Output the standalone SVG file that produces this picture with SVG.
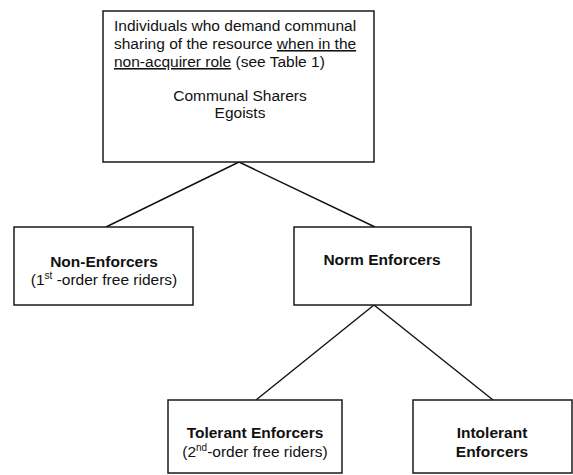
<svg xmlns="http://www.w3.org/2000/svg" width="573" height="475" viewBox="0 0 573 475">
<style>
.box{fill:#fff;stroke:#1a1a1a;stroke-width:1.5}
.t{font-family:"Liberation Sans",Arial,sans-serif;font-size:15.5px;fill:#111}
.b{font-weight:bold}
.c{text-anchor:middle}
.u{text-decoration:underline}
.sup{font-size:10px}
.conn line{stroke:#111;stroke-width:1.4}
</style>
<rect width="573" height="475" fill="#fff"/>
<g class="conn" id="connectors">
<line x1="239" y1="162" x2="106" y2="227"/>
<line x1="239" y1="162" x2="375" y2="227"/>
<line x1="374" y1="305" x2="256" y2="400"/>
<line x1="374" y1="305" x2="493" y2="400"/>
</g>
<g id="root">
<rect class="box" x="103" y="11" width="271" height="151"/>
<text class="t" x="114" y="31">Individuals who demand communal</text>
<text class="t" x="114" y="49">sharing of the resource <tspan class="u">when in the</tspan></text>
<text class="t" x="114" y="67"><tspan class="u">non-acquirer role</tspan> (see Table 1)</text>
<text class="t c" x="240" y="101">Communal Sharers</text>
<text class="t c" x="240" y="118">Egoists</text>
</g>
<g id="non-enforcers">
<rect class="box" x="14" y="227" width="179" height="78"/>
<text class="t b c" x="104" y="267">Non-Enforcers</text>
<text class="t c" x="104" y="285">(1<tspan class="sup" dy="-6">st</tspan><tspan dy="6"> -order free riders)</tspan></text>
</g>
<g id="norm-enforcers">
<rect class="box" x="294" y="227" width="177" height="78"/>
<text class="t b c" x="382" y="265">Norm Enforcers</text>
</g>
<g id="tolerant-enforcers">
<rect class="box" x="168" y="400" width="174" height="73"/>
<text class="t b c" x="255" y="438">Tolerant Enforcers</text>
<text class="t c" x="255" y="457">(2<tspan class="sup" dy="-6">nd</tspan><tspan dy="6">-order free riders)</tspan></text>
</g>
<g id="intolerant-enforcers">
<rect class="box" x="413" y="400" width="159" height="73"/>
<text class="t b c" x="492" y="438">Intolerant</text>
<text class="t b c" x="492" y="457">Enforcers</text>
</g>
</svg>
